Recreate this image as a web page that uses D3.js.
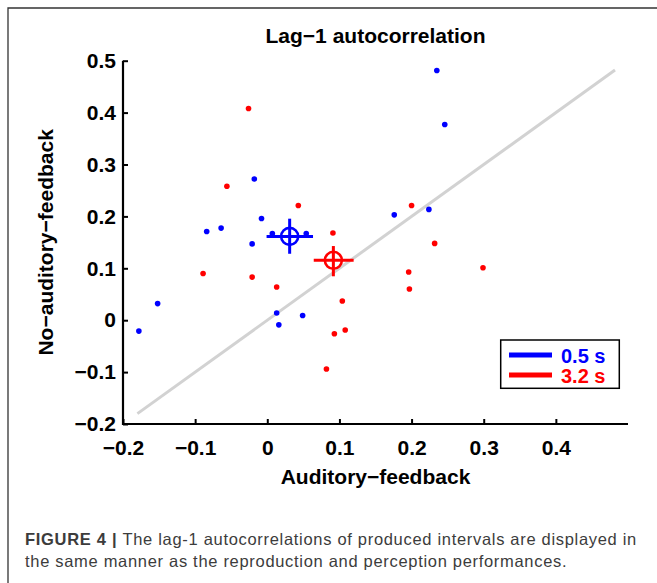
<!DOCTYPE html>
<html><head><meta charset="utf-8">
<script src="https://cdn.jsdelivr.net/npm/d3@7"></script>
<style>html,body{margin:0;padding:0;background:#fff;}svg{display:block;}</style>
</head><body>
<svg id="c" width="657" height="583"></svg>
<script>
// ---- data ----
const blueX = [-0.084,-0.064,-0.018,-0.008,-0.021,0.007,0.054,-0.178,-0.152,0.013,0.016,0.049,0.235,0.246,0.176,0.224];
const blueY = [0.171,0.1775,0.272,0.196,0.147,0.167,0.167,-0.021,0.032,0.014,-0.009,0.009,0.481,0.377,0.203,0.2135];
const redX  = [-0.026,-0.056,0.043,0.091,-0.089,-0.021,0.013,0.104,0.093,0.108,0.082,0.200,0.232,0.196,0.197,0.299];
const redY  = [0.408,0.258,0.221,0.168,0.090,0.083,0.064,0.037,-0.026,-0.019,-0.094,0.221,0.148,0.093,0.060,0.101];
const groups = ["0.5 s","3.2 s"];
const groupColors = ["#0000ff","#ff0000"];
const meanX = [0.031, 0.0916];
const meanY = [0.1615, 0.1154];
const errXLo = [-0.001, 0.0644];
const errXHi = [0.0634, 0.1197];
const errYLo = [0.128, 0.0846];
const errYHi = [0.1956, 0.1429];
const diagonal = [-0.18, 0.482];
const xTicks = [-0.2,-0.1,0,0.1,0.2,0.3,0.4];
const yTicks = [-0.2,-0.1,0,0.1,0.2,0.3,0.4,0.5];
const title = "Lag\u22121 autocorrelation";
const xLabel = "Auditory\u2212feedback";
const yLabel = "No\u2212auditory\u2212feedback";
const captionBold = "FIGURE 4 | ";
const captionLines = ["The lag-1 autocorrelations of produced intervals are displayed in",
                      "the same manner as the reproduction and perception performances."];

// ---- drawing ----
const svg = d3.select("#c");
const L = 123, R = 628, T = 60.7, B = 424;
const x = d3.scaleLinear().domain([-0.2, 0.5]).range([L, R]);
const y = d3.scaleLinear().domain([-0.2, 0.5]).range([B, T]);
const font = "'Liberation Sans', Arial, Helvetica, sans-serif";

// frame border
svg.append("path").attr("d", "M8,583 L8,8 L657,8")
  .attr("fill","none").attr("stroke","#333").attr("stroke-width",1.3);

// diagonal
svg.append("line")
  .attr("x1", x(diagonal[0])).attr("y1", y(diagonal[0]))
  .attr("x2", x(diagonal[1])).attr("y2", y(diagonal[1]))
  .attr("stroke","#d2d2d2").attr("stroke-width",3);

// axes
const fmt = d => d === 0 ? "0" : d3.format(".1f")(d);
const xAxis = svg.append("g").attr("transform",`translate(0,${B})`)
  .call(d3.axisBottom(x).tickValues(xTicks).tickFormat(fmt).tickSizeInner(-5).tickSizeOuter(0).tickPadding(16));
const yAxis = svg.append("g").attr("transform",`translate(${L},0)`)
  .call(d3.axisLeft(y).tickValues(yTicks).tickFormat(fmt).tickSizeInner(-5).tickSizeOuter(0).tickPadding(7));
[xAxis, yAxis].forEach(g => {
  g.select(".domain").attr("stroke","#000").attr("stroke-width",2.2);
  g.selectAll(".tick line").attr("stroke","#000").attr("stroke-width",2);
  g.selectAll(".tick text").attr("fill","#000").style("font-family",font)
    .style("font-size","21px").style("font-weight","bold");
});
xAxis.select(".domain").attr("d", `M${L-1},0H${R}`);
yAxis.select(".domain").attr("d", `M0,${T}V${B+1}`);

// points
const pts = [blueX.map((v,i)=>[v,blueY[i]]), redX.map((v,i)=>[v,redY[i]])];
pts.forEach((arr, gi) => {
  svg.append("g").selectAll("circle").data(arr).join("circle")
    .attr("cx", d => x(d[0])).attr("cy", d => y(d[1])).attr("r", 2.8)
    .attr("fill", groupColors[gi]);
});

// means with error bars
groups.forEach((g, i) => {
  const gg = svg.append("g").attr("stroke", groupColors[i]).attr("fill","none");
  gg.append("line").attr("x1", x(errXLo[i])).attr("x2", x(errXHi[i]))
    .attr("y1", y(meanY[i])).attr("y2", y(meanY[i])).attr("stroke-width",3);
  gg.append("line").attr("x1", x(meanX[i])).attr("x2", x(meanX[i]))
    .attr("y1", y(errYLo[i])).attr("y2", y(errYHi[i])).attr("stroke-width",3);
  gg.append("circle").attr("cx", x(meanX[i])).attr("cy", y(meanY[i])).attr("r", 8.5)
    .attr("stroke-width",2.6);
});

// title and labels
svg.append("text").attr("x",(L+R)/2).attr("y",43).attr("text-anchor","middle")
  .style("font-family",font).style("font-size","21px").style("font-weight","bold").text(title);
svg.append("text").attr("x",(L+R)/2).attr("y",484).attr("text-anchor","middle")
  .style("font-family",font).style("font-size","21px").style("font-weight","bold").text(xLabel);
svg.append("text").attr("transform",`translate(53,${(T+B)/2}) rotate(-90)`).attr("text-anchor","middle")
  .style("font-family",font).style("font-size","21px").style("font-weight","bold").text(yLabel);

// legend
const lg = svg.append("g");
lg.append("rect").attr("x",500.7).attr("y",340).attr("width",118.6).attr("height",48.3)
  .attr("fill","#fff").attr("stroke","#000").attr("stroke-width",1.5);
groups.forEach((g,i) => {
  const yy = 355 + i*20;
  lg.append("line").attr("x1",509).attr("x2",552).attr("y1",yy).attr("y2",yy)
    .attr("stroke",groupColors[i]).attr("stroke-width",5);
  lg.append("text").attr("x",561).attr("y",yy+7.5).attr("fill",groupColors[i])
    .style("font-family",font).style("font-size","20px").style("font-weight","bold").text(g);
});

// caption
const cap = svg.append("g").style("font-family",font).style("font-size","16.5px").attr("fill","#3c3c3c");
const t1 = cap.append("text").attr("x",25).attr("y",545);
t1.append("tspan").style("font-weight","bold").text(captionBold);
t1.append("tspan").text(captionLines[0]);
const t2 = cap.append("text").attr("x",25).attr("y",567).text(captionLines[1]);
// stretch spacing so line 1 spans the same width as in the reference
const w1 = t1.node().getComputedTextLength();
const nChars = (captionBold + captionLines[0]).length;
const ls = (612 - w1) / nChars;
t1.style("letter-spacing", ls + "px");
t2.style("letter-spacing", ls + "px");
</script>
</body></html>
